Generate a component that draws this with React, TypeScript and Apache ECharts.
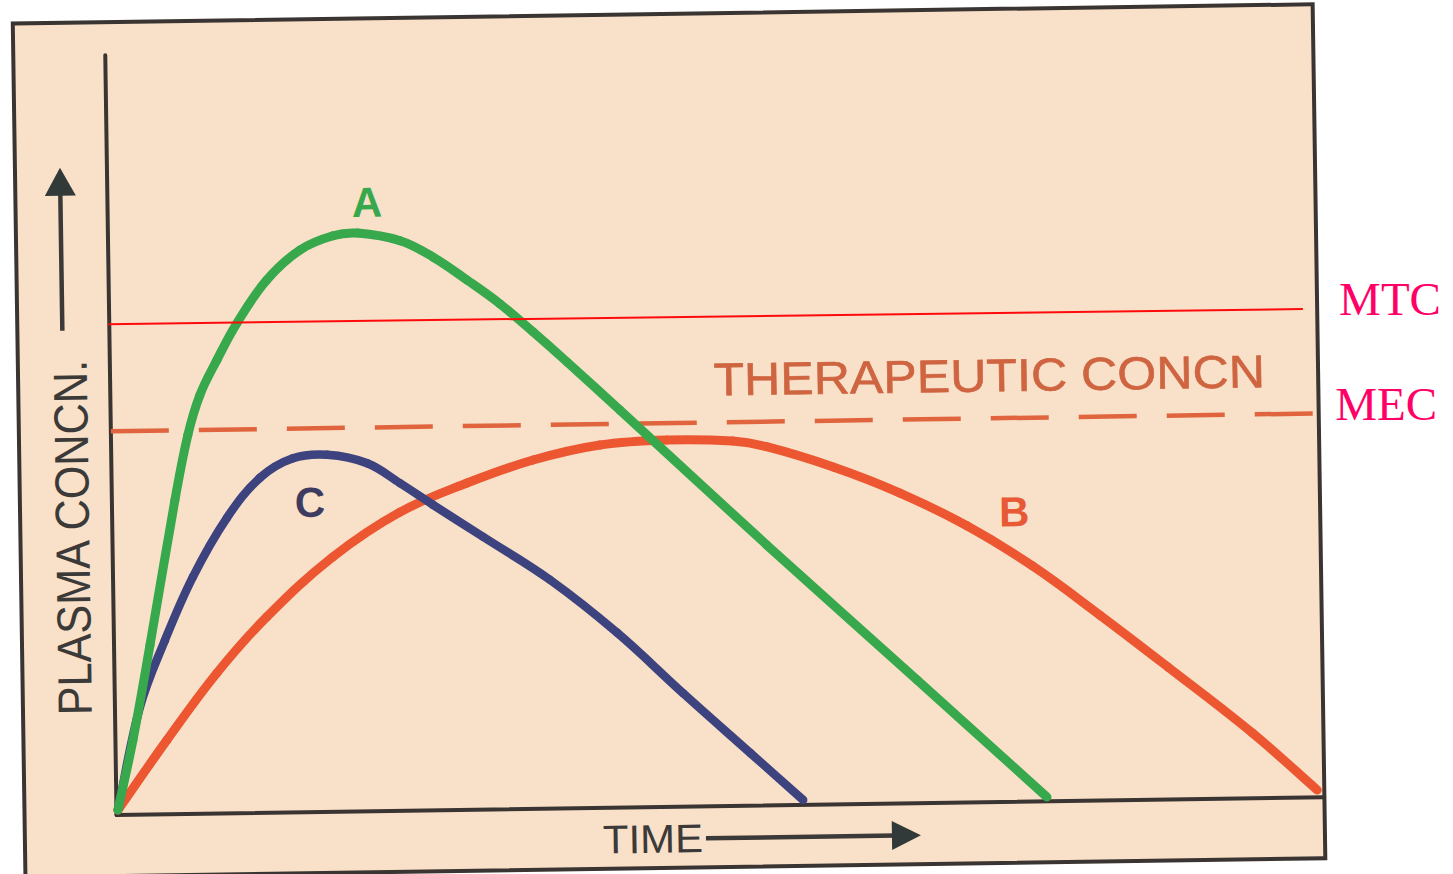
import React, { useEffect, useRef } from "react";
import * as echarts from "echarts";

// Curve A: fast absorption, high peak (crosses MTC)
const curveA: number[][] = [
  [0.12, 0.66], [1.45, 9.84], [2.98, 22.3], [5.22, 41.3], [6.38, 49.9], [7.42, 55.1],
  [8.88, 59.7], [10.58, 64.5], [13.1, 70.1], [15.9, 74.0], [18.64, 75.8], [20.7, 76.1],
  [24.2, 75.0], [26.9, 72.8], [29.7, 69.7], [32.4, 66.5], [35.1, 62.75], [37.9, 58.7],
  [42.2, 52.3], [54.2, 34.26], [66.5, 16.2], [77.1, 0.55],
];
// Curve B: slow absorption, long duration, peak just below MEC
const curveB: number[][] = [
  [0.12, 0.66], [4.27, 9.78], [8.49, 18.5], [12.7, 25.8], [18.2, 33.5], [23.85, 39.3],
  [29.44, 43.0], [34.94, 45.9], [40.5, 47.75], [46.06, 48.28], [51.5, 48.0], [54.3, 47.2],
  [59.8, 44.4], [65.3, 40.84], [70.8, 36.4], [76.2, 30.97], [81.7, 24.4], [87.3, 17.4],
  [94.2, 8.58], [99.5, 0.95],
];
// Curve C: fast absorption, low peak
const curveC: number[][] = [
  [0.12, 0.66], [2.07, 14.17], [4.22, 22.9], [6.62, 31.2], [9.51, 38.9], [12.3, 44.1],
  [15.05, 46.6], [17.9, 47.0], [21.2, 45.8], [23.9, 43.1], [26.6, 40.2], [30.7, 35.9],
  [36.2, 30.1], [41.7, 23.0], [47.1, 14.9], [52.6, 6.9], [56.9, 0.64],
];
// Reference levels
const mtcLine: number[][] = [[-0.52, 64.6], [98.9, 64.26]];
const mecLine: number[][] = [[0, 50.5], [100, 50.5]];

const curveLabels = ["A", "B", "C"];
const levelLabels = ["MTC", "MEC"];
const axisTitles = ["PLASMA CONCN.", "TIME"];
const bandTitle = "THERAPEUTIC CONCN";

const SANS = '"Liberation Sans", Arial, Helvetica, sans-serif';
const SERIF = '"Liberation Serif", "Times New Roman", serif';
const TENSION = 0.38;

function dist(a: number[], b: number[]) {
  return Math.hypot(a[0] - b[0], a[1] - b[1]);
}

// Smooth curve through the traced points: each point draws the cubic segment to the next one
function curveSeries(name: string, pts: number[][], color: string, width: number, z: number) {
  return {
    name,
    type: "custom",
    z,
    data: pts,
    encode: { x: 0, y: 1 },
    silent: true,
    renderItem: (params: any, api: any) => {
      const i = params.dataIndex;
      if (i >= pts.length - 1) return null;
      const c = (k: number) => api.coord(pts[Math.max(0, Math.min(pts.length - 1, k))]);
      const p0 = c(i - 1), p1 = c(i), p2 = c(i + 1), p3 = c(i + 2);
      const d01 = dist(p0, p1), d12 = dist(p1, p2), d23 = dist(p2, p3);
      const k1 = d01 + d12 > 0 ? (TENSION * d12) / (d01 + d12) : 0;
      const k2 = d12 + d23 > 0 ? (TENSION * d12) / (d12 + d23) : 0;
      return {
        type: "bezierCurve",
        shape: {
          x1: p1[0], y1: p1[1], x2: p2[0], y2: p2[1],
          cpx1: p1[0] + (p2[0] - p0[0]) * k1, cpy1: p1[1] + (p2[1] - p0[1]) * k1,
          cpx2: p2[0] - (p3[0] - p1[0]) * k2, cpy2: p2[1] - (p3[1] - p1[1]) * k2,
        },
        style: { stroke: color, lineWidth: width, fill: "none", lineCap: "round" },
      };
    },
  };
}

export default function App() {
  const ref = useRef<HTMLDivElement>(null);
  useEffect(() => {
    const chart = echarts.init(ref.current!, undefined, { renderer: "svg" });
    const axisColor = "#3a3532";
    const dark = "#3b3a39";
    const tilt = -0.01484;
    chart.setOption({
      animation: false,
      backgroundColor: "#ffffff",
      grid: { left: 111, right: 135, top: 46, bottom: 68 },
      xAxis: {
        type: "value", min: 0, max: 100,
        axisLine: { show: true, lineStyle: { color: axisColor, width: 4 } },
        axisTick: { show: false }, axisLabel: { show: false }, splitLine: { show: false },
      },
      yAxis: {
        type: "value", min: 0, max: 100,
        axisLine: { show: true, lineStyle: { color: axisColor, width: 4 } },
        axisTick: { show: false }, axisLabel: { show: false }, splitLine: { show: false },
      },
      series: [
        {
          name: "MEC", type: "line", data: mecLine, showSymbol: false, silent: true, z: 3,
          lineStyle: { color: "#e0643e", width: 4.5, type: [58, 30] },
        },
        curveSeries("B", curveB, "#ec5732", 9, 4),
        curveSeries("C", curveC, "#3d437e", 8.5, 5),
        curveSeries("A", curveA, "#37a84b", 9, 6),
        {
          name: "MTC", type: "line", data: mtcLine, showSymbol: false, clip: false, silent: true, z: 8,
          lineStyle: { color: "#ff0a0a", width: 2 },
        },
      ],
      graphic: [
        {
          type: "rect", z: -10, silent: true,
          shape: { x: 19, y: 13, width: 1300, height: 854 },
          style: { fill: "#f9e0c8", stroke: axisColor, lineWidth: 4 },
        },
        // y-axis title and arrow
        {
          type: "text", x: 71.5, y: 528, rotation: Math.PI / 2, scaleX: 0.9, z: 20,
          style: { text: axisTitles[0], x: 0, y: 0, font: `48px ${SANS}`, fill: dark, textAlign: "center", textVerticalAlign: "middle" },
        },
        { type: "line", z: 20, shape: { x1: 64, y1: 321, x2: 64, y2: 182 }, style: { stroke: dark, lineWidth: 4.5 } },
        { type: "polygon", z: 20, shape: { points: [[64, 158], [48.5, 186], [79.5, 186]] }, style: { fill: "#323a39" } },
        // x-axis title and arrow
        {
          type: "text", x: 647, y: 838, scaleX: 1.05, z: 20,
          style: { text: axisTitles[1], x: 0, y: 0, font: `40px ${SANS}`, fill: dark, textAlign: "center", textVerticalAlign: "middle" },
        },
        { type: "line", z: 20, shape: { x1: 700, y1: 838, x2: 890, y2: 838 }, style: { stroke: dark, lineWidth: 4.5 } },
        { type: "polygon", z: 20, shape: { points: [[915, 838], [886, 823.5], [886, 852.5]] }, style: { fill: "#323a39" } },
        // band title
        {
          type: "text", x: 990, y: 379, scaleX: 1.09, z: 20,
          style: { text: bandTitle, x: 0, y: 0, font: `46px ${SANS}`, fill: "#cf6440", stroke: "#cf6440", lineWidth: 0.6, textAlign: "center", textVerticalAlign: "middle" },
        },
        // curve labels
        {
          type: "text", x: 370.5, y: 197, z: 20,
          style: { text: curveLabels[0], x: 0, y: 0, font: `bold 42px ${SANS}`, fill: "#37a84b", textAlign: "center", textVerticalAlign: "middle" },
        },
        {
          type: "text", x: 1013, y: 516, z: 20,
          style: { text: curveLabels[1], x: 0, y: 0, font: `bold 42px ${SANS}`, fill: "#e85a35", textAlign: "center", textVerticalAlign: "middle" },
        },
        {
          type: "text", x: 309, y: 496, z: 20,
          style: { text: curveLabels[2], x: 0, y: 0, font: `bold 42px ${SANS}`, fill: "#3d3c60", textAlign: "center", textVerticalAlign: "middle" },
        },
        // level labels (outside the frame)
        {
          type: "text", x: 1392, y: 309, rotation: tilt, z: 20,
          style: { text: levelLabels[0], x: 0, y: 0, font: `47px ${SERIF}`, fill: "#ff0066", textAlign: "center", textVerticalAlign: "middle" },
        },
        {
          type: "text", x: 1386.5, y: 414, rotation: tilt, z: 20,
          style: { text: levelLabels[1], x: 0, y: 0, font: `47px ${SERIF}`, fill: "#ff0066", textAlign: "center", textVerticalAlign: "middle" },
        },
      ],
    });
    return () => chart.dispose();
  }, []);
  return (
    <div style={{ position: "fixed", left: 0, top: 0, width: 1453, height: 874, overflow: "hidden", background: "#ffffff" }}>
      <div
        ref={ref}
        style={{ width: 1453, height: 874, transform: "rotate(-0.85deg)", transformOrigin: "726px 437px" }}
      />
    </div>
  );
}
